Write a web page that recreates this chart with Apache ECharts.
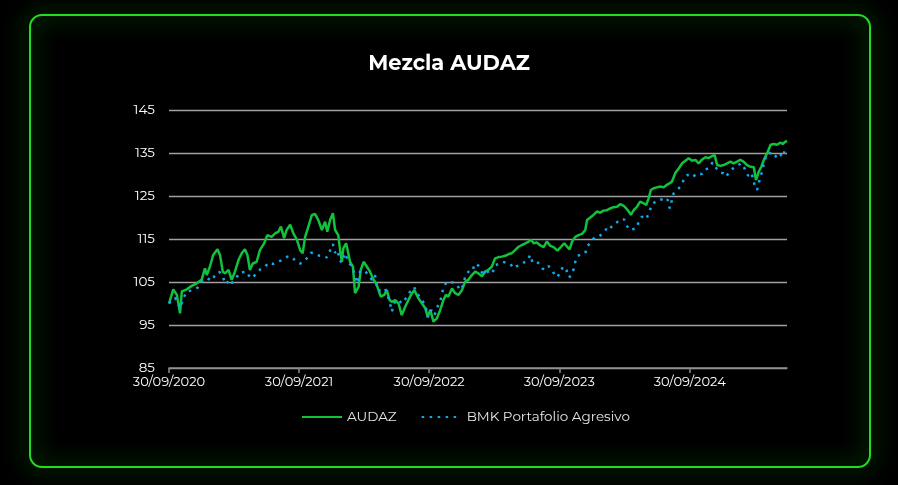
<!DOCTYPE html>
<html>
<head>
<meta charset="utf-8">
<script src="https://cdn.jsdelivr.net/npm/echarts@6/dist/echarts.min.js"></script>
<style>
html,body{margin:0;padding:0;background:#000;}
#c{width:898px;height:485px;}
</style>
</head>
<body>
<div id="c"></div>
<script>
// Days since 30/09/2020
const xTickLabels = ['30/09/2020','30/09/2021','30/09/2022','30/09/2023','30/09/2024'];
const xTickDays = [0, 365, 730, 1095, 1461];

const audazDays = [0,12,22,31,36,50,64,78,92,101,106,115,124,136,143,151,157,167,176,185,195,204,213,220,227,235,246,255,267,276,288,298,307,314,323,330,340,349,359,368,
375,382,391,401,410,419,429,438,444,452,460,466,475,480,485,489,497,503,508,516,522,532,538,546,555,564,574,581,588,594,604,611,619,625,635,644,653,663,672,679,688,695,
700,710,719,726,733,742,752,761,770,777,784,794,803,812,822,831,840,850,859,868,878,887,896,906,915,925,934,943,953,962,971,981,990,1000,1009,1016,1023,1032,1042,1051,
1060,1070,1079,1090,1100,1109,1117,1124,1131,1140,1149,1159,1168,1173,1182,1191,1201,1210,1219,1229,1238,1247,1257,1266,1276,1283,1290,1296,1304,1313,1322,1332,1339,1346,1352,1360,1369,1379,1388,1397,
1402,1411,1421,1430,1440,1449,1458,1468,1477,1486,1496,1505,1514,1524,1531,1538,1547,1556,1566,1575,1584,1594,1603,1612,1622,1631,1641,1647,1655,1662,1669,1678,1688,1697,1706,1715,1722,1729,1734];
const audazValues = [100,103.3,102,97.7,102.8,103.3,104.1,104.7,105.6,108.2,106.6,108.6,111.3,112.6,111.3,107.4,107,107.8,105.5,107.4,110.1,111.7,112.6,111.3,107.8,109.3,109.7,112.4,114,115.9,115.5,116.3,116.7,117.9,115.2,117.1,118.3,116.3,114.8,112.4,
111.7,115.5,117.9,120.6,120.8,119.4,117.1,119,116.7,119.4,121,117.1,115.9,112.4,109.7,112.8,114,111.7,109.7,108.6,102.4,103.9,107.8,109.7,108.6,107.4,105.5,104.7,103.1,101.6,102,103.1,100.8,100.4,100.8,100,97.3,99.3,100.8,102,103.1,102,
101.2,100,98.9,96.9,98.5,95.8,96.6,98.5,100.8,102,101.6,103.5,102.4,102,103.1,105.1,105.5,106.6,107.4,107,106.3,107.4,107.8,108.6,110.5,110.8,110.9,111.1,111.5,111.7,112.4,113.2,113.6,114,114.4,114.8,114,114.2,113.5,113.1,
114.4,113.4,113.1,112.3,113.2,114,113.2,112.6,114.4,115.5,115.9,116.2,117.1,119.4,120,120.6,121.4,121.1,121.6,121.7,122.1,122.4,122.5,123.1,122.7,122.1,121.4,120.6,121.7,122.5,123.7,123.3,122.9,124.5,126.4,126.8,127,127.2,127,127.6,
128,128.3,130.4,131.4,132.6,133.2,133.8,133.2,133.4,132.6,133.5,134,133.8,134.3,134.5,132.2,132,132.2,132.6,133,132.6,133,133.4,133,132.2,131.8,131.7,128.7,130.7,131.8,133.4,134.9,136.9,137.1,136.9,137.4,137.1,137.6,137.8];

const bmkDays = [0,8,17,26,31,40,50,61,73,82,92,106,120,129,141,151,160,169,176,188,199,209,218,227,235,244,257,270,279,293,307,321,332,344,
357,368,377,391,398,410,422,433,443,450,454,460,466,474,478,485,494,503,513,522,527,536,547,560,569,578,585,594,606,613,621,625,635,644,653,663,672,681,688,695,
700,711,721,726,736,745,754,761,770,780,789,798,808,817,826,831,840,850,859,867,873,882,889,898,908,915,925,936,945,957,967,976,985,995,1004,1014,1020,1030,1039,1047,1054,
1065,1077,1087,1098,1105,1115,1121,1128,1135,1140,1147,1159,1168,1174,1184,1194,1205,1218,1227,1233,1240,1249,1259,1268,1277,1283,1292,1302,1311,1318,1327,1339,1349,1355,1362,1371,1381,1392,1399,1405,
1416,1428,1438,1444,1454,1468,1482,1496,1505,1514,1525,1538,1547,1556,1563,1570,1580,1587,1597,1606,1615,1625,1634,1643,1650,1657,1664,1672,1681,1690,1700,1711,1722,1729,1734];
const bmkValues = [100,100.8,101.3,100,98.9,101.2,102.8,103,103.3,103.8,105.1,105.9,105.3,106.6,107.4,106.1,104.5,105.5,104.7,105.9,107.2,107.3,107.4,106.1,105.9,107,108,108.6,109.5,109.2,109.7,110.3,110.9,110.9,
109.7,109.3,109.6,110.9,111.8,111.7,111.1,111.1,110.7,111.7,113,113.8,111.8,112.4,110.1,109.5,111.7,109.7,108.6,106.6,104.7,107.4,107.8,106.6,105.5,106.6,103.1,103,103.5,102,99.7,98.1,100.7,100.8,100,101,102.2,103.3,103.8,102.4,
102,100.8,98.9,96.8,98.5,97.3,99.4,100.4,103.8,105.1,104.9,104.9,104.3,103.1,104.3,106.3,107.4,107.4,109.3,108.9,108.2,106.4,108.2,106.9,107.2,108.9,109.2,109.7,109.5,109.3,108.2,108.7,108.9,109.5,109.9,111.3,109.5,109.7,109.3,108.2,107.8,
108.7,107.4,106.1,107,108.6,107.8,106.1,106.4,107.9,109.7,111.1,111.5,111.7,113.4,114.2,115.4,115.5,116.3,117.3,116.9,117.7,118.6,119,119,119.6,118.3,117.1,117.3,117.5,119,120.2,119.6,121.6,123.1,123.5,124.1,124.2,123.7,124.2,122.1,
125.6,126.5,127.6,128.7,129.9,129.3,130.3,130.1,131.2,131.4,132.8,131.2,130.4,130.3,129.5,130.3,131.2,131.8,132.2,132.6,131.4,129.7,130.4,127.6,126.4,128.7,130.7,133.5,135.1,134.9,134,135.1,134,135.9,135.5];

const zip = (a, b) => a.map((d, i) => [d, b[i]]);
const FONT = 'Montserrat, Inter, "Noto Sans", sans-serif';

const chart = echarts.init(document.getElementById('c'));
chart.setOption({
  backgroundColor: '#000',
  animation: false,
  graphic: [{
    type: 'rect',
    shape: { x: 30, y: 15, width: 840, height: 452, r: 12 },
    style: { fill: 'none', stroke: '#22dd22', lineWidth: 2, shadowBlur: 22, shadowColor: 'rgba(20,235,20,0.95)' },
    silent: true, z: -1
  }],
  title: {
    text: 'Mezcla AUDAZ',
    left: 'center', top: 48,
    textStyle: { color: '#fff', fontSize: 21, fontWeight: 'bold', fontFamily: FONT }
  },
  legend: {
    top: 405, left: 296,
    itemWidth: 40, itemHeight: 10, itemGap: 24,
    itemStyle: { opacity: 0 },
    textStyle: { color: '#e6e6e6', fontSize: 13.5, fontFamily: FONT },
    data: ['AUDAZ', 'BMK Portafolio Agresivo']
  },
  grid: { left: 169, right: 111, top: 110, bottom: 117, containLabel: false },
  xAxis: {
    type: 'value', min: 0, max: 1734, interval: 365,
    axisLine: { show: true, lineStyle: { color: '#8c8c8c', width: 1.5 } },
    axisTick: { show: true, length: 5, lineStyle: { color: '#8c8c8c', width: 1.5 }, customValues: xTickDays },
    splitLine: { show: false },
    axisLabel: {
      color: '#fff', fontSize: 13, fontFamily: FONT, margin: 8,
      customValues: xTickDays,
      formatter: v => { const i = xTickDays.indexOf(v); return i >= 0 ? xTickLabels[i] : ''; }
    }
  },
  yAxis: {
    type: 'value', min: 85, max: 145, interval: 10,
    axisLine: { show: false }, axisTick: { show: false },
    splitLine: { lineStyle: { color: '#a0a0a0', width: 1.3 } },
    axisLabel: { color: '#fff', fontSize: 13.5, fontFamily: FONT, margin: 14 }
  },
  series: [
    {
      name: 'AUDAZ', type: 'line', data: zip(audazDays, audazValues),
      showSymbol: false, symbol: 'none', z: 3,
      lineStyle: { color: '#10c23c', width: 2.5 }, itemStyle: { color: '#10c23c' }
    },
    {
      name: 'BMK Portafolio Agresivo', type: 'line', data: zip(bmkDays, bmkValues),
      showSymbol: false, symbol: 'none', z: 4,
      lineStyle: { color: '#12a8ec', width: 2.5, type: [2.5, 5.5] }, itemStyle: { color: '#12a8ec' }
    }
  ]
});
</script>
</body>
</html>
